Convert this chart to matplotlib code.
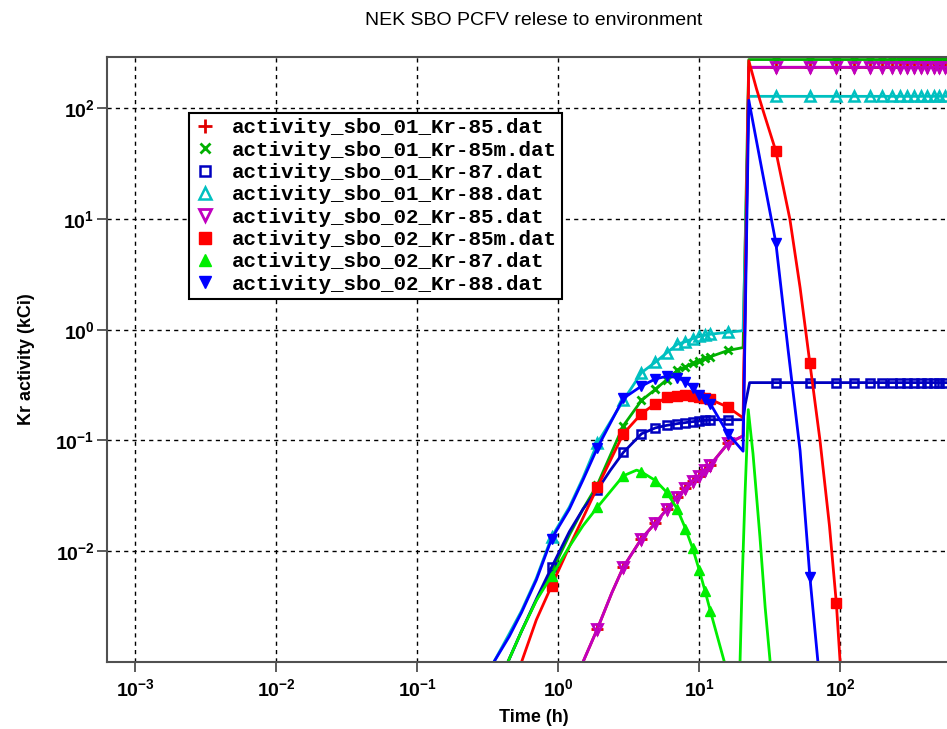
import matplotlib
matplotlib.use("Agg")
import matplotlib.pyplot as plt
from matplotlib import font_manager
from matplotlib.ticker import FixedLocator, FuncFormatter, NullLocator
import numpy as np

plt.rcParams["mathtext.fontset"] = "custom"
plt.rcParams["mathtext.rm"] = "Liberation Sans"
plt.rcParams["mathtext.bf"] = "Liberation Sans:bold"

installed = {f.name for f in font_manager.fontManager.ttflist}
title_font = "Liberation Sans Narrow" if "Liberation Sans Narrow" in installed else "Liberation Sans"

# output times (h) that carry a symbol
mark_times = [0.9, 1.9, 2.9, 3.9, 4.9, 5.9, 7.0, 8.0, 9.0, 10.0, 11.0, 12.0, 16.0,
              35.0, 61.0, 94.0, 126.0, 163.0, 199.0, 234.0, 267.0, 300.0, 335.0,
              375.0, 414.0, 464.0, 504.0, 556.0]

t_tail = [35.0, 61.0, 94.0, 126.0, 163.0, 199.0, 234.0, 267.0, 300.0, 335.0,
          375.0, 414.0, 464.0, 504.0, 556.0, 720.0]

# sbo_01
kr85_01_t = [1.5, 1.9, 2.4, 2.9, 3.9, 4.9, 5.9, 7.0, 8.0, 9.0, 10.0, 11.0, 12.0, 16.0, 20.5, 22.5] + t_tail
kr85_01_v = [0.001, 0.002, 0.0042, 0.0072, 0.013, 0.018, 0.024, 0.031, 0.037, 0.043, 0.048, 0.054,
             0.06, 0.094, 0.11, 234, 234, 234, 234, 234, 234, 234, 234, 234, 234, 234, 234, 234,
             234, 234, 234, 234]

kr85m_01_t = [0.44, 0.55, 0.7, 0.9, 1.2, 1.5, 1.9, 2.9, 3.9, 4.9, 5.9, 7.0, 8.0, 9.0, 10.0, 11.0,
              12.0, 16.0, 20.5, 22.5] + t_tail
kr85m_01_v = [0.001, 0.0019, 0.0036, 0.0065, 0.014, 0.024, 0.04, 0.136, 0.23, 0.29, 0.355, 0.43,
              0.46, 0.5, 0.52, 0.55, 0.57, 0.65, 0.69, 275, 275, 275, 275, 275, 275, 275, 275,
              275, 275, 275, 275, 275, 275, 275, 275, 275]

kr87_01_t = [0.44, 0.55, 0.7, 0.9, 1.2, 1.5, 1.9, 2.35, 2.9, 3.9, 4.9, 5.9, 7.0, 8.0, 9.0, 10.0,
             11.0, 12.0, 16.0, 20.5, 21.2, 22.8] + t_tail
kr87_01_v = [0.001, 0.0019, 0.0037, 0.0072, 0.015, 0.024, 0.036, 0.054, 0.078, 0.115, 0.13, 0.137,
             0.142, 0.145, 0.148, 0.15, 0.152, 0.154, 0.154, 0.154, 0.21, 0.333, 0.333, 0.333,
             0.333, 0.333, 0.333, 0.333, 0.333, 0.333, 0.333, 0.333, 0.333, 0.333, 0.333, 0.333,
             0.333, 0.333]

kr88_01_t = [0.35, 0.45, 0.55, 0.7, 0.9, 1.2, 1.5, 1.9, 2.9, 3.9, 4.9, 5.9, 7.0, 8.0, 9.0, 10.0,
             11.0, 12.0, 16.0, 20.5, 22.5] + t_tail
kr88_01_v = [0.001, 0.0018, 0.0029, 0.0057, 0.0135, 0.025, 0.046, 0.095, 0.23, 0.41, 0.51, 0.62,
             0.74, 0.78, 0.83, 0.87, 0.89, 0.91, 0.95, 0.98, 128, 128, 128, 128, 128, 128, 128,
             128, 128, 128, 128, 128, 128, 128, 128, 128, 128]

# sbo_02
kr85_02_t = list(kr85_01_t)
kr85_02_v = list(kr85_01_v)

kr85m_02_t = [0.55, 0.7, 0.9, 1.2, 1.5, 1.9, 2.9, 3.9, 4.9, 5.9, 7.0, 8.0, 9.0, 10.0, 11.0, 12.0,
              16.0, 20.5, 22.5, 25.5, 28.5, 35.0, 44.0, 52.0, 61.0, 72.0, 84.0, 94.0, 100.0]
kr85m_02_v = [0.001, 0.0024, 0.0049, 0.011, 0.02, 0.038, 0.115, 0.175, 0.215, 0.245, 0.254, 0.256,
              0.25, 0.245, 0.24, 0.235, 0.2, 0.16, 268, 150, 94, 41, 10, 2.4, 0.5, 0.1, 0.017,
              0.0034, 0.001]

kr87_02_t = [0.44, 0.55, 0.7, 0.9, 1.2, 1.5, 1.9, 2.9, 3.6, 3.9, 4.9, 5.9, 7.0, 8.0, 9.0, 10.0,
             11.0, 12.0, 15.1, 17.0, 19.5, 20.2, 21.2, 22.3, 24.1, 27.0, 29.4, 31.9]
kr87_02_v = [0.001, 0.0019, 0.0036, 0.006, 0.011, 0.017, 0.025, 0.048, 0.054, 0.052, 0.0435, 0.034,
             0.024, 0.016, 0.0106, 0.0068, 0.0044, 0.0029, 0.001, 0.0003, 0.001, 0.0055, 0.035,
             0.19, 0.076, 0.0134, 0.0031, 0.001]

kr88_02_t = [0.35, 0.45, 0.55, 0.7, 0.9, 1.2, 1.5, 1.9, 2.9, 3.9, 4.9, 5.9, 7.0, 8.0, 9.0, 10.0,
             11.0, 12.0, 16.0, 20.5, 22.5, 28.0, 35.0, 42.8, 52.0, 61.0, 69.6]
kr88_02_v = [0.001, 0.0017, 0.0028, 0.0055, 0.013, 0.024, 0.044, 0.086, 0.24, 0.31, 0.36, 0.38,
             0.37, 0.34, 0.30, 0.26, 0.235, 0.215, 0.115, 0.08, 118, 27, 6.1, 0.65, 0.081, 0.0059,
             0.001]

series = [
    ("activity_sbo_01_Kr-85.dat", kr85_01_t, kr85_01_v, "#e00000", dict(marker="+", ms=8, mew=2)),
    ("activity_sbo_01_Kr-85m.dat", kr85m_01_t, kr85m_01_v, "#00b000", dict(marker="x", ms=6, mew=2)),
    ("activity_sbo_01_Kr-87.dat", kr87_01_t, kr87_01_v, "#0000c0",
     dict(marker="s", ms=5.5, mew=1.8, mfc="none")),
    ("activity_sbo_01_Kr-88.dat", kr88_01_t, kr88_01_v, "#00c0c0",
     dict(marker="^", ms=6.5, mew=1.8, mfc="none")),
    ("activity_sbo_02_Kr-85.dat", kr85_02_t, kr85_02_v, "#c000c0",
     dict(marker="v", ms=6.5, mew=2, mfc="none")),
    ("activity_sbo_02_Kr-85m.dat", kr85m_02_t, kr85m_02_v, "#ff0000", dict(marker="s", ms=6.5, mew=1)),
    ("activity_sbo_02_Kr-87.dat", kr87_02_t, kr87_02_v, "#00ee00", dict(marker="^", ms=7, mew=1)),
    ("activity_sbo_02_Kr-88.dat", kr88_02_t, kr88_02_v, "#0000ff", dict(marker="v", ms=7, mew=1)),
]

fig = plt.figure(figsize=(9.47, 7.29), dpi=100)
ax = fig.add_axes([107 / 947, 67 / 729, 854 / 947, 605 / 729])

for label, t, v, color, mk in series:
    t = np.asarray(t)
    v = np.asarray(v)
    ax.plot(t, v, color=color, lw=2)
    m = np.isin(t, mark_times)
    ax.plot(t[m], v[m], ls="none", color=color, mec=color, label=label, **mk)

ax.set_xscale("log")
ax.set_yscale("log")
ax.set_xlim(10 ** -3.2, 720)
ax.set_ylim(1e-3, 290)

ax.xaxis.set_major_locator(FixedLocator([1e-3, 1e-2, 1e-1, 1, 10, 100]))
ax.yaxis.set_major_locator(FixedLocator([1e-2, 1e-1, 1, 10, 100]))
ax.xaxis.set_minor_locator(NullLocator())
ax.yaxis.set_minor_locator(NullLocator())
exp_fmt = FuncFormatter(lambda val, pos: r"$\mathbf{10^{%d}}$" % round(np.log10(val)))
ax.xaxis.set_major_formatter(exp_fmt)
ax.yaxis.set_major_formatter(exp_fmt)
ax.tick_params(axis="both", direction="out", length=7, width=1.2, color="#404040",
               labelsize=14, pad=2)
ax.tick_params(axis="x", pad=5)

ax.grid(True, color="black", ls=(0, (3, 3)), lw=1)
for side in ("left", "bottom", "top"):
    ax.spines[side].set_color("#505050")
    ax.spines[side].set_linewidth(1.5)
ax.spines["right"].set_visible(False)

ax.set_xlabel("Time (h)", fontsize=13, fontweight="bold", family="Liberation Sans", labelpad=6)
ax.set_ylabel("Kr activity (kCi)", fontsize=13, fontweight="bold", family="Liberation Sans",
              labelpad=15)
ax.set_title("NEK SBO PCFV relese to environment", fontsize=14, family=title_font, pad=23)

leg = ax.legend(loc="upper left", bbox_to_anchor=(0.096, 0.9074), borderaxespad=0,
                prop=dict(family="Liberation Mono", weight="bold", size=15),
                frameon=True, fancybox=False, framealpha=1, edgecolor="black",
                handlelength=1.0, handletextpad=0.8, labelspacing=0.16, borderpad=0.25,
                markerscale=1.3)
leg.get_frame().set_linewidth(1.5)

fig.savefig("out.png", dpi=100)
